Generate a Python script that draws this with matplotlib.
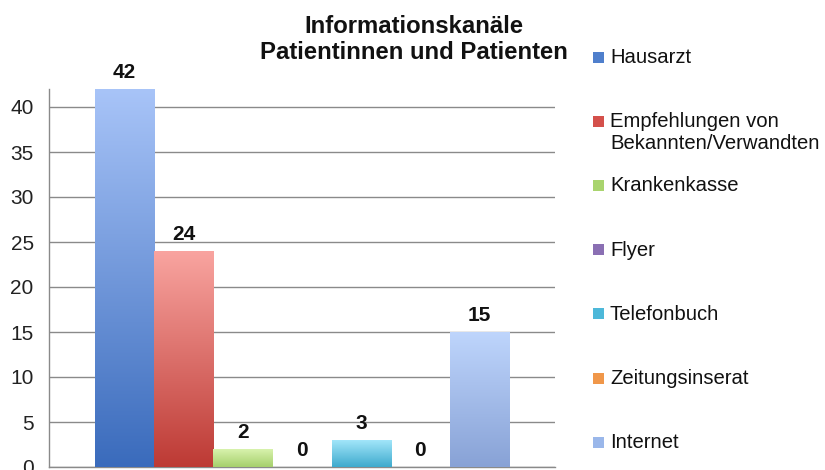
import numpy as np
import matplotlib
matplotlib.use("Agg")
import matplotlib.pyplot as plt
from matplotlib.colors import LinearSegmentedColormap
from matplotlib.patches import Rectangle

plt.rcParams['font.family'] = ['Liberation Sans', 'DejaVu Sans']

# ---- data ----
categories = ["Hausarzt", "Empfehlungen von\nBekannten/Verwandten", "Krankenkasse",
              "Flyer", "Telefonbuch", "Zeitungsinserat", "Internet"]
values = [42, 24, 2, 0, 3, 0, 15]
title_text = "Informationskanäle\nPatientinnen und Patienten"
yticks = [0, 5, 10, 15, 20, 25, 30, 35, 40]

# ---- styles (top colour, bottom colour) ----
grad_colors = [("#a8c4f8", "#3a6bbc"),
               ("#f9a4a0", "#bd3a34"),
               ("#d8f2ad", "#a6d06c"),
               ("#b9a3d8", "#7a5ea6"),
               ("#a2e6fa", "#3eaacd"),
               ("#fbc08a", "#e8843a"),
               ("#bed5fc", "#88a2d6")]
legend_colors = ["#4f7fcc", "#d4504b", "#a9d46e", "#8a6fb3", "#4db8d9", "#f0974a", "#9ab7ea"]

W, H = 825, 470
fig = plt.figure(figsize=(W / 100, H / 100), dpi=100)
ax = fig.add_axes([49 / W, (H - 467) / H, (555 - 49) / W, (467 - 89) / H])

x = np.arange(len(values))
bars = ax.bar(x, values, width=1.0, color="none", edgecolor="none", zorder=3)

grad = np.linspace(1, 0, 256).reshape(-1, 1)
for patch, (top, bot) in zip(bars.patches, grad_colors):
    bx, by = patch.get_x(), patch.get_y()
    bw, bh = patch.get_width(), patch.get_height()
    if bh <= 0:
        continue
    cmap = LinearSegmentedColormap.from_list("g", [bot, top])
    im = ax.imshow(grad, cmap=cmap, extent=[bx, bx + bw, by, by + bh],
                   aspect="auto", origin="upper", zorder=3, vmin=0, vmax=1)
    im.set_clip_path(patch)

ax.bar_label(bars, labels=[str(v) for v in values], padding=5,
             fontsize=15, fontweight="bold", color="#111111")

ax.set_xlim(-1.276, 7.276)
ax.set_ylim(0, 42)
ax.set_yticks(yticks)
ax.set_xticks([])
ax.tick_params(axis="y", length=0, pad=11, labelsize=15, labelcolor="#222222")
ax.yaxis.grid(True, color="#8a8a8a", linewidth=1.0, zorder=0)
ax.set_axisbelow(True)
for s in ["top", "right"]:
    ax.spines[s].set_visible(False)
for s in ["left", "bottom"]:
    ax.spines[s].set_color("#8a8a8a")
    ax.spines[s].set_linewidth(1.0)

# title: two lines, baselines at ~33 and ~59 px
for j, line in enumerate(title_text.split("\n")):
    fig.text(414 / W, 1 - (33 + 26 * j) / H, line, ha="center", va="baseline",
             fontsize=17.2, fontweight="bold", color="#111111")

# legend (manual)
y0, step = 57, 64.2
for i, (lab, col) in enumerate(zip(categories, legend_colors)):
    yc = y0 + step * i
    fig.patches.append(Rectangle((593 / W, 1 - (yc + 5.5) / H), 11 / W, 11 / H,
                                 transform=fig.transFigure, facecolor=col,
                                 edgecolor="none"))
    for j, line in enumerate(lab.split("\n")):
        fig.text(610 / W, 1 - (yc + 6 + 22 * j) / H, line, ha="left", va="baseline",
                 fontsize=14.6, color="#111111")

fig.savefig("out.png", dpi=100)
